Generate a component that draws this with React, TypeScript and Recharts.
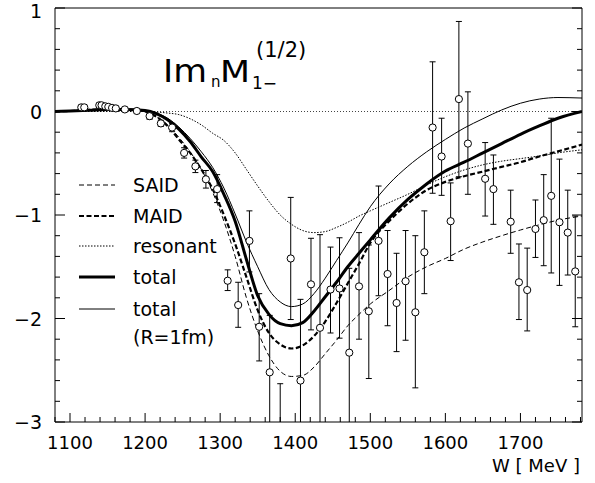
import React from 'react'
import { ComposedChart, Line, Scatter, ErrorBar, XAxis, YAxis, ReferenceLine } from 'recharts'

const FONT = '"DejaVu Sans", sans-serif'

// model curves, sampled on a common W grid (MeV)
const W_GRID = [1080, 1100, 1125, 1150, 1175, 1200, 1215, 1230, 1245, 1260, 1275, 1290, 1305, 1320, 1335, 1350, 1365, 1380, 1395, 1410, 1425, 1440, 1455, 1470, 1485, 1500, 1525, 1550, 1575, 1600, 1625, 1650, 1675, 1700, 1725, 1750, 1782]
const SAID = [0, 0.005, 0.015, 0.025, 0.02, 0.0, -0.05, -0.13, -0.25, -0.39, -0.56, -0.78, -1.06, -1.4, -1.8, -2.12, -2.36, -2.51, -2.56, -2.55, -2.47, -2.34, -2.21, -2.07, -1.96, -1.86, -1.73, -1.6, -1.5, -1.42, -1.33, -1.26, -1.2, -1.145, -1.095, -1.05, -1.01]
const MAID = [0, 0.005, 0.015, 0.025, 0.02, 0.0, -0.05, -0.14, -0.27, -0.4, -0.56, -0.75, -1.0, -1.28, -1.6, -1.92, -2.14, -2.25, -2.29, -2.26, -2.17, -2.03, -1.85, -1.66, -1.47, -1.27, -1.06, -0.89, -0.76, -0.68, -0.625, -0.58, -0.535, -0.49, -0.435, -0.385, -0.32]
const RESONANT = [0, 0, 0, 0, 0, 0, -0.005, -0.015, -0.03, -0.07, -0.13, -0.21, -0.28, -0.4, -0.56, -0.72, -0.87, -1.0, -1.09, -1.15, -1.17, -1.16, -1.12, -1.07, -1.01, -0.96, -0.88, -0.8, -0.71, -0.63, -0.565, -0.515, -0.48, -0.455, -0.43, -0.4, -0.37]
const TOTAL = [0, 0.005, 0.012, 0.02, 0.02, 0.01, -0.02, -0.08, -0.17, -0.29, -0.44, -0.58, -0.8, -1.06, -1.43, -1.78, -1.96, -2.05, -2.07, -2.04, -1.93, -1.79, -1.65, -1.5, -1.37, -1.24, -1.03, -0.85, -0.7, -0.575, -0.49, -0.4, -0.31, -0.22, -0.14, -0.065, 0.0]
const TOTAL_R1 = [0, 0.005, 0.012, 0.02, 0.02, 0.01, -0.015, -0.065, -0.15, -0.26, -0.39, -0.54, -0.74, -0.99, -1.26, -1.5, -1.72, -1.84, -1.885, -1.86, -1.76, -1.61, -1.44, -1.27, -1.09, -0.92, -0.7, -0.53, -0.39, -0.27, -0.16, -0.07, 0.015, 0.08, 0.12, 0.135, 0.13]

// measured points: W, value, lower and upper end of the error bar
const DATA_W = [1115, 1119, 1139, 1142, 1147, 1151, 1156, 1161, 1173, 1189, 1206, 1221, 1236, 1252, 1267, 1281, 1296, 1310, 1324, 1339, 1352, 1366, 1380, 1394, 1407, 1421, 1433, 1447, 1459, 1472, 1485, 1498, 1511, 1523, 1535, 1547, 1560, 1572, 1583, 1595, 1607, 1618, 1630, 1653, 1664, 1687, 1698, 1709, 1720, 1731, 1741, 1752, 1763, 1773]
const DATA_V = [0.04, 0.04, 0.06, 0.06, 0.05, 0.045, 0.035, 0.03, 0.02, 0.005, -0.045, -0.115, -0.155, -0.4, -0.53, -0.655, -0.75, -1.635, -1.87, -1.25, -2.08, -2.52, -3.2, -1.42, -2.6, -1.67, -2.09, -1.72, -1.71, -2.33, -1.69, -1.93, -1.25, -1.57, -1.85, -1.64, -1.94, -1.36, -0.155, -0.435, -1.06, 0.12, -0.31, -0.65, -0.75, -1.065, -1.65, -1.725, -1.135, -1.05, -0.815, -1.07, -1.17, -1.545]
const DATA_LO = [0.02, 0.02, 0.04, 0.04, 0.03, 0.025, 0.015, 0.01, 0.0, -0.015, -0.075, -0.145, -0.195, -0.45, -0.59, -0.74, -0.88, -1.73, -2.085, -1.55, -2.41, -3.5, -3.9, -2.01, -3.4, -2.11, -3.1, -2.14, -2.19, -3.5, -2.2, -2.58, -1.78, -2.07, -2.32, -2.21, -2.67, -1.76, -0.79, -0.81, -1.44, -0.63, -0.8, -1.01, -1.09, -1.37, -2.01, -2.12, -1.41, -1.49, -1.56, -1.68, -1.58, -2.08]
const DATA_HI = [0.06, 0.06, 0.08, 0.08, 0.07, 0.065, 0.055, 0.05, 0.04, 0.025, -0.015, -0.085, -0.115, -0.35, -0.47, -0.57, -0.61, -1.53, -1.65, -0.96, -1.76, -1.97, -2.63, -0.83, -1.815, -1.225, -1.19, -1.31, -1.22, -1.515, -1.17, -1.29, -0.72, -1.15, -1.37, -1.15, -1.2, -0.96, 0.48, -0.065, -0.69, 0.87, 0.19, -0.3, -0.42, -0.76, -1.28, -1.32, -0.855, -0.61, -0.065, -0.46, -0.76, -1.01]

const X_DOMAIN = [1080, 1782]
const Y_DOMAIN = [-3, 1]
const X_TICKS: number[] = []
for (let w = 1080; w <= 1780; w += 20) X_TICKS.push(w)
const Y_TICKS: number[] = []
for (let i = -15; i <= 5; i++) Y_TICKS.push(Math.round(i * 20) / 100)

const curves = W_GRID.map((w, i) => ({
  w,
  said: SAID[i],
  maid: MAID[i],
  res: RESONANT[i],
  total: TOTAL[i],
  total1: TOTAL_R1[i],
}))

const points = DATA_W.map((w, i) => ({
  w,
  v: DATA_V[i],
  err: [DATA_V[i] - DATA_LO[i], DATA_HI[i] - DATA_V[i]],
}))

const isMajorX = (v: number) => v % 100 === 0
const isMajorY = (v: number) => Math.abs(v - Math.round(v)) < 1e-6
const yLabel = (v: number) => (v < 0 ? '\u2212' + Math.abs(Math.round(v)) : String(Math.round(v)))

function BottomTick({ x, y, payload }: any) {
  const major = isMajorX(payload.value)
  return (
    <g>
      <line x1={x} x2={x} y1={y} y2={y - (major ? 9 : 5)} stroke="#000" />
      {major && (
        <text x={x} y={y + 27} textAnchor="middle" fontSize={18} fontFamily={FONT} fill="#000">
          {payload.value}
        </text>
      )}
    </g>
  )
}

function TopTick({ x, y, payload }: any) {
  const major = isMajorX(payload.value)
  return <line x1={x} x2={x} y1={y} y2={y + (major ? 9 : 5)} stroke="#000" />
}

function LeftTick({ x, y, payload }: any) {
  const major = isMajorY(payload.value)
  const top = payload.value >= 1
  return (
    <g>
      <line x1={x} x2={x + (major ? 10 : 5)} y1={y} y2={y} stroke="#000" />
      {major && (
        <text x={x - 13} y={y + (top ? 10 : 7)} textAnchor="end" fontSize={19} fontFamily={FONT} fill="#000">
          {yLabel(payload.value)}
        </text>
      )}
    </g>
  )
}

function RightTick({ x, y, payload }: any) {
  const major = isMajorY(payload.value)
  return <line x1={x} x2={x - (major ? 10 : 5)} y1={y} y2={y} stroke="#000" />
}

const Circle = (p: any) => <circle cx={p.cx} cy={p.cy} r={3.6} fill="#fff" stroke="#000" strokeWidth={1} />

const LEGEND = [
  { label: ['SAID'], y: 185, dash: '5 3', width: 1 },
  { label: ['MAID'], y: 216, dash: '5 2.5', width: 2.2 },
  { label: ['resonant'], y: 246, dash: '1.5 1.5', width: 1 },
  { label: ['total'], y: 277, dash: undefined, width: 3 },
  { label: ['total', '(R=1fm)'], y: 309, dash: undefined, width: 1 },
]

export default function App() {
  return (
    <div style={{ position: 'absolute', left: 0, top: 0, width: 595, height: 483, background: '#fff' }}>
      <style>{'.recharts-scatter, .recharts-errorBars, .recharts-errorBar { clip-path: url(#plotClip); }'}</style>
      <svg width={0} height={0} style={{ position: 'absolute' }}>
        <defs>
          <clipPath id="plotClip" clipPathUnits="userSpaceOnUse">
            <rect x={55} y={8} width={527} height={414} />
          </clipPath>
        </defs>
      </svg>
      <ComposedChart width={595} height={483} margin={{ top: 0, right: 0, bottom: 0, left: 0 }}>
        <XAxis
          dataKey="w"
          type="number"
          domain={X_DOMAIN}
          allowDataOverflow
          ticks={X_TICKS}
          interval={0}
          height={61}
          tickSize={0}
          tickMargin={0}
          tickLine={false}
          axisLine={{ stroke: '#000' }}
          tick={<BottomTick />}
        />
        <XAxis
          xAxisId="top"
          orientation="top"
          type="number"
          domain={X_DOMAIN}
          allowDataOverflow
          ticks={X_TICKS}
          interval={0}
          height={8}
          tickSize={0}
          tickMargin={0}
          tickLine={false}
          axisLine={{ stroke: '#000' }}
          tick={<TopTick />}
        />
        <YAxis
          dataKey="v"
          type="number"
          domain={Y_DOMAIN}
          allowDataOverflow
          ticks={Y_TICKS}
          interval={0}
          width={55}
          tickSize={0}
          tickMargin={0}
          tickLine={false}
          axisLine={{ stroke: '#000' }}
          tick={<LeftTick />}
        />
        <YAxis
          yAxisId="right"
          orientation="right"
          type="number"
          domain={Y_DOMAIN}
          allowDataOverflow
          ticks={Y_TICKS}
          interval={0}
          width={13}
          tickSize={0}
          tickMargin={0}
          tickLine={false}
          axisLine={{ stroke: '#000' }}
          tick={<RightTick />}
        />
        <ReferenceLine y={0} stroke="#444" strokeDasharray="1 2" strokeWidth={1} />
        <Line data={curves} dataKey="res" type="monotone" stroke="#000" strokeWidth={1} strokeDasharray="1.5 1.5" dot={false} isAnimationActive={false} />
        <Line data={curves} dataKey="said" type="monotone" stroke="#000" strokeWidth={1} strokeDasharray="5 3" dot={false} isAnimationActive={false} />
        <Line data={curves} dataKey="maid" type="monotone" stroke="#000" strokeWidth={2.2} strokeDasharray="5 2.5" dot={false} isAnimationActive={false} />
        <Line data={curves} dataKey="total1" type="monotone" stroke="#000" strokeWidth={1} dot={false} isAnimationActive={false} />
        <Line data={curves} dataKey="total" type="monotone" stroke="#000" strokeWidth={3} dot={false} isAnimationActive={false} />
        <Scatter data={points} dataKey="v" shape={Circle} isAnimationActive={false}>
          <ErrorBar dataKey="err" direction="y" width={3} stroke="#000" strokeWidth={1} />
        </Scatter>
      </ComposedChart>

      <svg width={595} height={483} style={{ position: 'absolute', left: 0, top: 0, pointerEvents: 'none' }}>
        <g fontFamily={FONT} fill="#000">
          <text x={163} y={82} fontSize={32} textLength={44} lengthAdjust="spacingAndGlyphs">Im</text>
          <text x={211} y={87} fontSize={15}>n</text>
          <text x={220} y={82} fontSize={30} textLength={30} lengthAdjust="spacingAndGlyphs">M</text>
          <text x={252} y={89} fontSize={17}>1−</text>
          <text x={256} y={57} fontSize={21}>(1/2)</text>
        </g>
        {LEGEND.map((item) => (
          <g key={item.label.join(' ')}>
            <line x1={79} x2={115} y1={item.y} y2={item.y} stroke="#000" strokeWidth={item.width} strokeDasharray={item.dash} />
            {item.label.map((t, k) => (
              <text key={t} x={133} y={item.y + 7 + k * 28} fontSize={19} fontFamily={FONT} fill="#000">
                {t}
              </text>
            ))}
          </g>
        ))}
        <text x={580} y={472} textAnchor="end" fontSize={18} fontFamily={FONT} fill="#000">
          W [ MeV ]
        </text>
      </svg>
    </div>
  )
}
